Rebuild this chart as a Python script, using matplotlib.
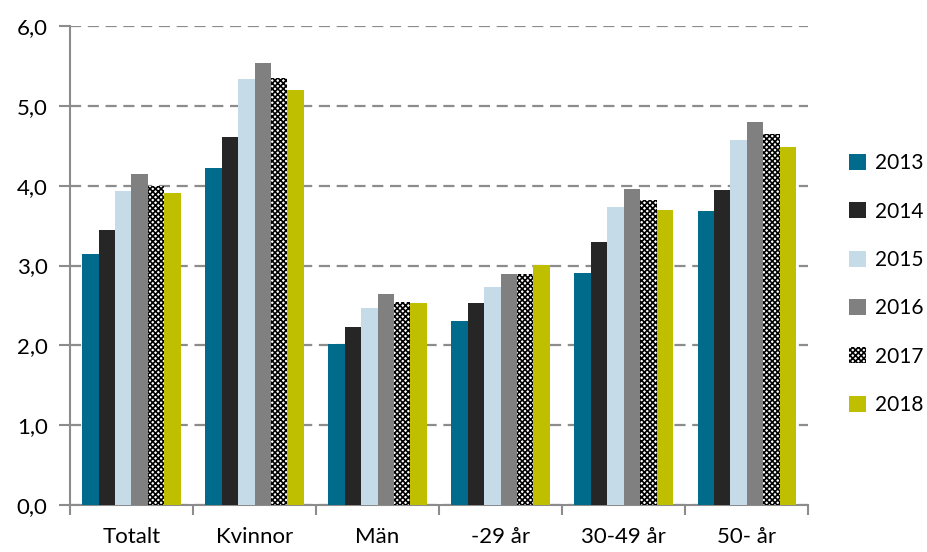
import numpy as np
import matplotlib
matplotlib.use('Agg')
import matplotlib.pyplot as plt
import matplotlib.ticker as mtick

# data
categories = ['Totalt', 'Kvinnor', 'Män', '-29 år', '30-49 år', '50- år']
years = ['2013', '2014', '2015', '2016', '2017', '2018']
v2013 = [3.15, 4.22, 2.02, 2.31, 2.91, 3.68]
v2014 = [3.45, 4.61, 2.23, 2.53, 3.30, 3.95]
v2015 = [3.93, 5.33, 2.47, 2.73, 3.73, 4.57]
v2016 = [4.15, 5.54, 2.64, 2.89, 3.96, 4.80]
v2017 = [4.00, 5.35, 2.54, 2.89, 3.82, 4.65]
v2018 = [3.91, 5.20, 2.53, 3.01, 3.70, 4.49]
series = [v2013, v2014, v2015, v2016, v2017, v2018]

colors = ['#006B8B', '#262626', '#C5DBE8', '#808080', 'white', '#BFBF00']
hatches = [None, None, None, None, 'xxxxxx', None]

plt.rcParams['font.family'] = ['Lato', 'DejaVu Sans']
plt.rcParams['hatch.linewidth'] = 1.2

fig = plt.figure(figsize=(9.28, 5.52), dpi=100)
ax = fig.add_axes([0.0754, 0.085, 0.7956, 0.868])

x = np.arange(len(categories))
w = 0.8 / len(years)
for i, (yr, vals) in enumerate(zip(years, series)):
    pos = x - 0.4 + w * (i + 0.5)
    if hatches[i]:
        ax.bar(pos, vals, w, color=colors[i], edgecolor='black', linewidth=0,
               hatch=hatches[i], label=yr, zorder=3)
    else:
        ax.bar(pos, vals, w, color=colors[i], linewidth=0, label=yr, zorder=3)

ax.set_xlim(-0.5, len(categories) - 0.5)
ax.set_ylim(0, 6)
ax.yaxis.set_major_locator(mtick.MultipleLocator(1))
ax.yaxis.set_major_formatter(mtick.FuncFormatter(lambda v, p: '{:.1f}'.format(v).replace('.', ',')))
ax.yaxis.grid(True, linestyle=(0, (5, 3)), color='#8C8C8C', linewidth=1.6, zorder=0)

# category boundaries as major ticks, labels on minor ticks
ax.set_xticks(np.arange(-0.5, len(categories), 1.0))
ax.set_xticklabels([])
ax.set_xticks(x, minor=True)
ax.set_xticklabels(categories, minor=True)
ax.tick_params(axis='x', which='minor', length=0, pad=16, labelsize=16)
ax.tick_params(axis='x', which='major', length=7, width=1.5, color='#8C8C8C')
ax.tick_params(axis='y', length=8, width=1.5, color='#8C8C8C', labelsize=16, pad=8)

for side in ['top', 'right']:
    ax.spines[side].set_visible(False)
for side in ['left', 'bottom']:
    ax.spines[side].set_color('#8C8C8C')
    ax.spines[side].set_linewidth(1.5)

fig.legend(loc='center left', bbox_to_anchor=(0.915, 0.4855), frameon=False, fontsize=15,
           borderpad=0, borderaxespad=0, handlelength=0.8, handleheight=0.8,
           handletextpad=0.45, labelspacing=1.36)

fig.savefig('out.png', dpi=100)
